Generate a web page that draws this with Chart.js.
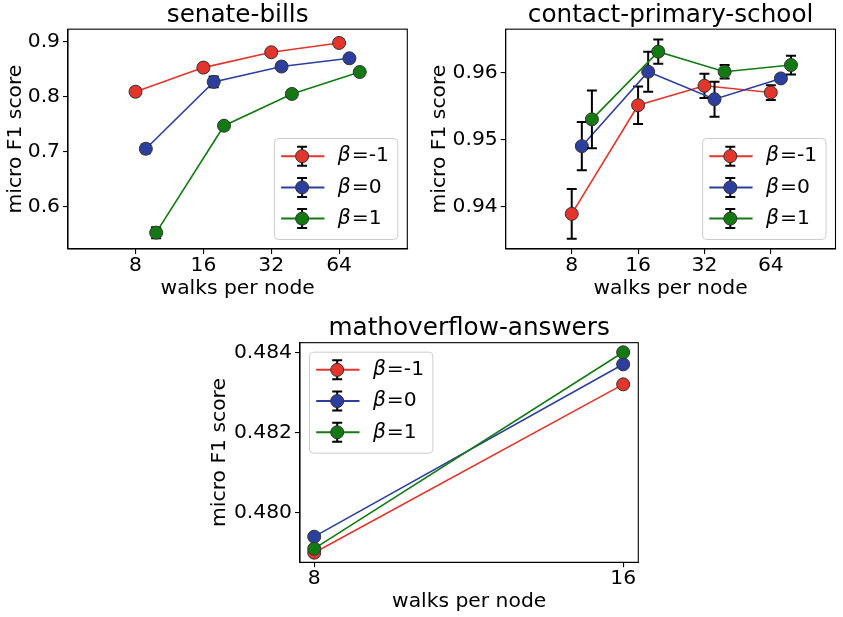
<!DOCTYPE html>
<html><head><meta charset="utf-8">
<script src="https://cdn.jsdelivr.net/npm/chart.js@4/dist/chart.umd.min.js"></script>
<style>
html,body{margin:0;padding:0;background:#fff;}
body{width:843px;height:617px;position:relative;overflow:hidden;}
canvas{position:absolute;}
</style></head><body>
<canvas id="c1" width="420" height="305" style="left:0px;top:0px"></canvas>
<canvas id="c2" width="423" height="305" style="left:420px;top:0px"></canvas>
<canvas id="c3" width="450" height="312" style="left:200px;top:305px"></canvas>
<script>
// ---------------- data ----------------
const betaValues = ['-1', '0', '1'];
const xAxisTitle = 'walks per node';
const yAxisTitle = 'micro F1 score';

// senate-bills
const senateWalks = [8, 16, 32, 64];
const senateXTickLabels = ['8', '16', '32', '64'];
const senateYTickLabels = ['0.6', '0.7', '0.8', '0.9'];
const senateBetaM1 = [0.809, 0.853, 0.881, 0.898];
const senateBeta0 = [0.705, 0.827, 0.855, 0.870];
const senateBeta1 = [0.552, 0.747, 0.805, 0.845];
const senateErrM1 = [0.007, 0.006, 0.006, 0.007];
const senateErr0 = [0.008, 0.010, 0.007, 0.006];
const senateErr1 = [0.010, 0.006, 0.007, 0.006];

// contact-primary-school
const contactWalks = [8, 16, 32, 64];
const contactXTickLabels = ['8', '16', '32', '64'];
const contactYTickLabels = ['0.94', '0.95', '0.96'];
const contactBetaM1 = [0.9389, 0.9551, 0.9580, 0.9570];
const contactBeta0 = [0.9490, 0.9601, 0.9560, 0.9591];
const contactBeta1 = [0.9530, 0.9631, 0.9601, 0.9611];
const contactErrM1 = [0.0037, 0.0028, 0.0018, 0.0011];
const contactErr0 = [0.0036, 0.0030, 0.0026, 0.0005];
const contactErr1 = [0.0043, 0.0018, 0.0010, 0.0014];

// mathoverflow-answers
const mathWalks = [8, 16];
const mathXTickLabels = ['8', '16'];
const mathYTickLabels = ['0.480', '0.482', '0.484'];
const mathBetaM1 = [0.4790, 0.4832];
const mathBeta0 = [0.4794, 0.4837];
const mathBeta1 = [0.4791, 0.4840];
const mathErrM1 = [0, 0];
const mathErr0 = [0, 0];
const mathErr1 = [0, 0];

// ---------------- styles ----------------
const FONT = '"DejaVu Sans", "Liberation Sans", sans-serif';
const LABEL_SIZE = 20.3;
const TITLE_SIZE = 24.7;
const lineColors = ['#e3352b', '#2c3f9f', '#137a13'];
const pointColors = ['#e3352b', '#2c3f9f', '#137a13'];

// ---------------- plugins ----------------
const errorBarPlugin = {
  id: 'errorBars',
  beforeDatasetDraw(chart, args) {
    const ds = chart.data.datasets[args.index];
    if (!ds.errors) return;
    const ctx = chart.ctx, xs = chart.scales.x, ys = chart.scales.y;
    ctx.save();
    ctx.strokeStyle = '#000';
    ctx.lineWidth = 2;
    ctx.lineCap = 'butt';
    ds.data.forEach((p, j) => {
      const e = ds.errors[j];
      const x = xs.getPixelForValue(p.x);
      const yTop = ys.getPixelForValue(p.y + e);
      const yBot = ys.getPixelForValue(p.y - e);
      ctx.beginPath();
      ctx.moveTo(x, yTop); ctx.lineTo(x, yBot);
      ctx.moveTo(x - 5, yTop); ctx.lineTo(x + 5, yTop);
      ctx.moveTo(x - 5, yBot); ctx.lineTo(x + 5, yBot);
      ctx.stroke();
    });
    ctx.restore();
  }
};

const framePlugin = {
  id: 'frame',
  afterDatasetsDraw(chart) {
    const a = chart.chartArea, ctx = chart.ctx;
    ctx.save();
    ctx.strokeStyle = '#000';
    ctx.lineWidth = 1.1;
    ctx.strokeRect(a.left, a.top, a.right - a.left, a.bottom - a.top);
    ctx.restore();
  }
};

const mplLegendPlugin = {
  id: 'mplLegend',
  afterDraw(chart, args, opts) {
    const ctx = chart.ctx, a = chart.chartArea;
    const w = 123.4, h = 101, gap = 9.5;
    let bx, by;
    if (opts.loc === 'lower right') { bx = a.right - gap - w; by = a.bottom - gap - h; }
    else { bx = a.left + gap; by = a.top + gap; }
    ctx.save();
    ctx.beginPath();
    ctx.roundRect(bx, by, w, h, 4);
    ctx.fillStyle = 'rgba(255,255,255,0.8)';
    ctx.fill();
    ctx.strokeStyle = '#cccccc';
    ctx.lineWidth = 1;
    ctx.stroke();
    chart.data.datasets.forEach((ds, i) => {
      const cy = by + 17.7 + i * 31.2;
      const mx = bx + 27.7;
      ctx.strokeStyle = ds.borderColor;
      ctx.lineWidth = 2;
      ctx.beginPath(); ctx.moveTo(bx + 6.7, cy); ctx.lineTo(bx + 50, cy); ctx.stroke();
      ctx.strokeStyle = '#000';
      ctx.lineWidth = 2;
      ctx.beginPath();
      ctx.moveTo(mx, cy - 9.5); ctx.lineTo(mx, cy + 9.5);
      ctx.moveTo(mx - 5, cy - 9.5); ctx.lineTo(mx + 5, cy - 9.5);
      ctx.moveTo(mx - 5, cy + 9.5); ctx.lineTo(mx + 5, cy + 9.5);
      ctx.stroke();
      ctx.beginPath(); ctx.arc(mx, cy, 6.5, 0, Math.PI * 2);
      ctx.fillStyle = ds.pointBackgroundColor; ctx.fill();
      ctx.strokeStyle = '#333'; ctx.lineWidth = 1; ctx.stroke();
      ctx.fillStyle = '#000';
      ctx.textBaseline = 'middle';
      ctx.textAlign = 'left';
      const tx = bx + 63.4;
      ctx.font = 'italic ' + LABEL_SIZE + 'px ' + FONT;
      ctx.fillText('β', tx, cy);
      const bw = ctx.measureText('β').width;
      ctx.font = LABEL_SIZE + 'px ' + FONT;
      ctx.fillText(ds.label.slice(1), tx + bw + 1, cy);
    });
    ctx.restore();
  }
};

// ---------------- builder ----------------
function makeChart(id, cfg) {
  const datasets = cfg.series.map((vals, i) => ({
    label: 'β=' + betaValues[i],
    data: vals.map((v, j) => ({ x: Math.log2(cfg.walks[j]) + cfg.dodge * i, y: v })),
    errors: cfg.errors[i],
    borderColor: lineColors[i],
    backgroundColor: pointColors[i],
    pointBackgroundColor: pointColors[i],
    pointBorderColor: '#333333',
    pointBorderWidth: 1,
    pointRadius: 6.5,
    borderWidth: 1.6,
    tension: 0,
    clip: false,
    order: 3 - i
  }));
  const xTicks = cfg.xTickLabels.map(s => Math.log2(Number(s)));
  const yTicks = cfg.yTickLabels.map(Number);
  return new Chart(document.getElementById(id), {
    type: 'line',
    data: { datasets },
    plugins: [errorBarPlugin, framePlugin, mplLegendPlugin],
    options: {
      responsive: false,
      animation: false,
      events: [],
      layout: { padding: cfg.padding },
      plugins: {
        legend: { display: false },
        tooltip: { enabled: false },
        title: {
          display: true, fullSize: false, text: cfg.title, color: '#000',
          font: { family: FONT, size: TITLE_SIZE, weight: 'normal', lineHeight: 1.1 },
          padding: { top: 2, bottom: cfg.titleGap }
        },
        mplLegend: { loc: cfg.legendLoc }
      },
      scales: {
        x: {
          type: 'linear', min: cfg.xMin, max: cfg.xMax,
          afterFit: s => { s.height = cfg.xHeight; },
          afterBuildTicks: s => { s.ticks = xTicks.map(v => ({ value: v })); },
          ticks: {
            color: '#000', padding: 1.5, autoSkip: false, maxRotation: 0,
            font: { family: FONT, size: LABEL_SIZE, lineHeight: 1 },
            callback: (v) => cfg.xTickLabels[xTicks.findIndex(t => Math.abs(t - v) < 1e-9)]
          },
          grid: { drawOnChartArea: false, drawTicks: true, tickLength: 5, color: '#000', lineWidth: 1.1 },
          border: { display: true, color: '#000', width: 1.1 },
          title: {
            display: true, text: xAxisTitle, color: '#000',
            font: { family: FONT, size: LABEL_SIZE, lineHeight: 1.2 },
            padding: { top: 0, bottom: cfg.xTitlePad }
          }
        },
        y: {
          type: 'linear', min: cfg.yMin, max: cfg.yMax,
          afterFit: s => { s.width = cfg.yWidth; },
          afterBuildTicks: s => { s.ticks = yTicks.map(v => ({ value: v })); },
          ticks: {
            color: '#000', padding: 3, autoSkip: false,
            font: { family: FONT, size: LABEL_SIZE, lineHeight: 1 },
            callback: (v) => cfg.yTickLabels[yTicks.findIndex(t => Math.abs(t - v) < 1e-9)]
          },
          grid: { drawOnChartArea: false, drawTicks: true, tickLength: 5, color: '#000', lineWidth: 1.1 },
          border: { display: true, color: '#000', width: 1.1 },
          title: {
            display: true, text: yAxisTitle, color: '#000',
            font: { family: FONT, size: LABEL_SIZE, lineHeight: 1.2 },
            padding: { top: cfg.yTitlePad, bottom: 0 }
          }
        }
      }
    }
  });
}

makeChart('c1', {
  title: 'senate-bills',
  walks: senateWalks, xTickLabels: senateXTickLabels, yTickLabels: senateYTickLabels,
  series: [senateBetaM1, senateBeta0, senateBeta1],
  errors: [senateErrM1, senateErr0, senateErr1],
  dodge: 0.152, xMin: 2.005, xMax: 7.005, yMin: 0.5222, yMax: 0.9231,
  padding: { left: 0, right: 12.7, top: 0, bottom: 0 },
  titleGap: 0, xHeight: 56, yWidth: 68, yTitlePad: 3.8, xTitlePad: 3.8,
  legendLoc: 'lower right'
});

makeChart('c2', {
  title: 'contact-primary-school',
  walks: contactWalks, xTickLabels: contactXTickLabels, yTickLabels: contactYTickLabels,
  series: [contactBetaM1, contactBeta0, contactBeta1],
  errors: [contactErrM1, contactErr0, contactErr1],
  dodge: 0.152, xMin: 2.005, xMax: 6.975, yMin: 0.93366, yMax: 0.96645,
  padding: { left: 0, right: 0.5, top: 0, bottom: 0 },
  titleGap: 0, xHeight: 56, yWidth: 85.7, yTitlePad: 7.8, xTitlePad: 3.8,
  legendLoc: 'lower right'
});

makeChart('c3', {
  title: 'mathoverflow-answers',
  walks: mathWalks, xTickLabels: mathXTickLabels, yTickLabels: mathYTickLabels,
  series: [mathBetaM1, mathBeta0, mathBeta1],
  errors: [mathErrM1, mathErr0, mathErr1],
  dodge: 0, xMin: 2.954, xMax: 4.049, yMin: 0.47876, yMax: 0.48424,
  padding: { left: 0, right: 11.7, top: 8.5, bottom: 0 },
  titleGap: 0, xHeight: 54.7, yWidth: 100, yTitlePad: 7.8, xTitlePad: 3.1,
  legendLoc: 'upper left'
});
</script>
</body></html>
